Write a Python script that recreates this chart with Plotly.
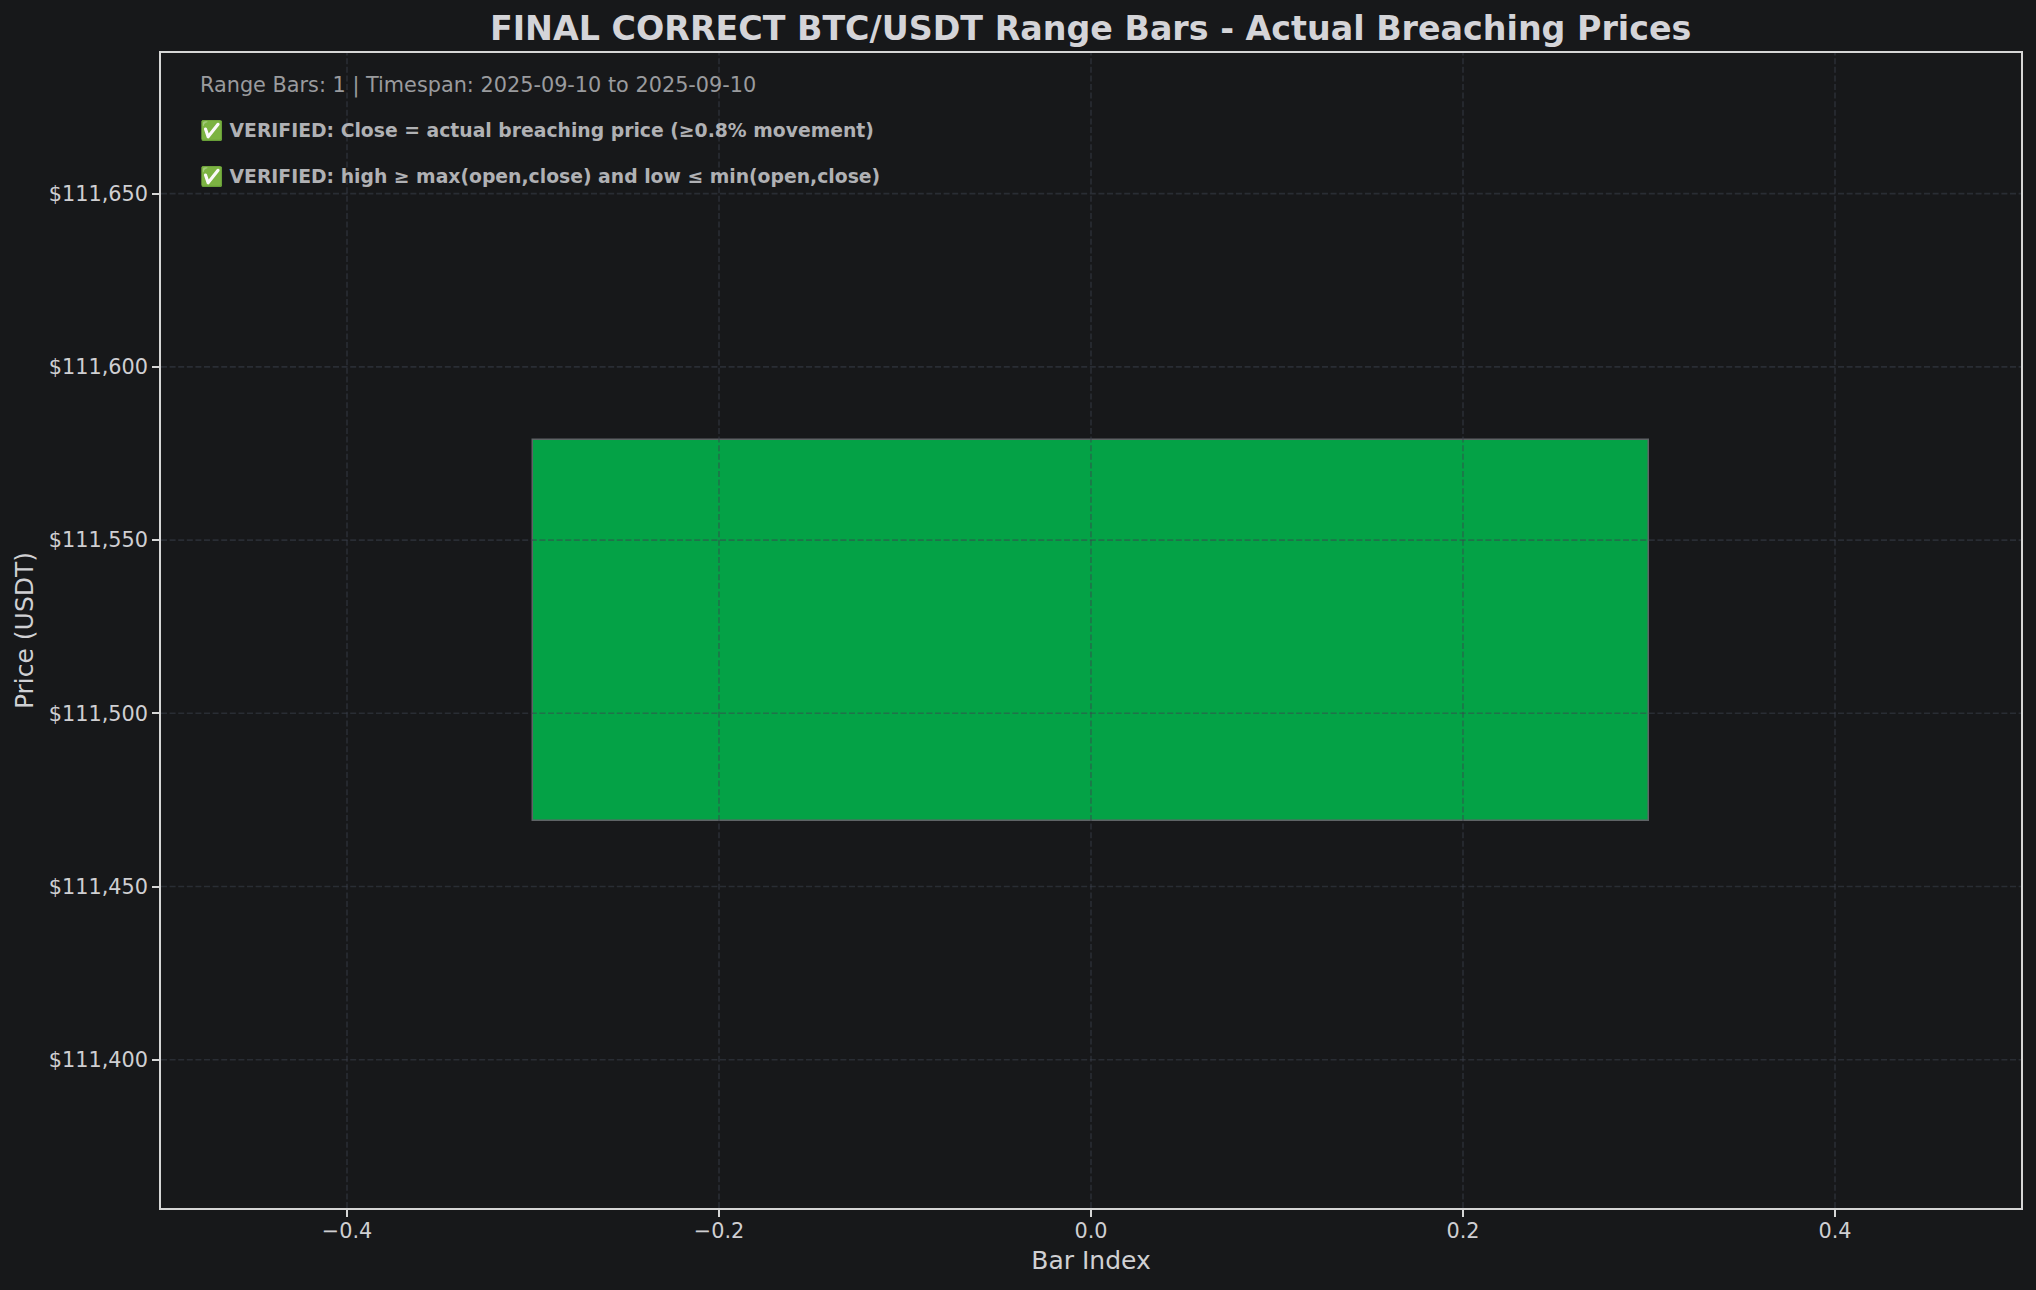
import plotly.graph_objects as go

# ---- data ----
bar_index = [0]
open_prices = [111469.0]
close_prices = [111579.0]

x_tick_vals = [-0.4, -0.2, 0.0, 0.2, 0.4]
x_tick_text = ["\u22120.4", "\u22120.2", "0.0", "0.2", "0.4"]
y_tick_vals = [111400, 111450, 111500, 111550, 111600, 111650]
y_tick_text = ["$" + f"{v:,}" for v in y_tick_vals]

title_text = "FINAL CORRECT BTC/USDT Range Bars - Actual Breaching Prices"
info_line = "Range Bars: 1 | Timespan: 2025-09-10 to 2025-09-10"
verify_lines = [
    "\u2705 VERIFIED: Close = actual breaching price (\u22650.8% movement)",
    "\u2705 VERIFIED: high \u2265 max(open,close) and low \u2264 min(open,close)",
]

BG = "#17181a"
FONT = "DejaVu Sans"

fig = go.Figure()
fig.add_trace(go.Bar(
    x=bar_index,
    y=[c - o for o, c in zip(open_prices, close_prices)],
    base=open_prices,
    width=0.6,
    marker=dict(color="#04a246", line=dict(color="#5f6366", width=1.5)),
    showlegend=False,
))

grid_color = "rgba(60,66,78,0.5)"
shapes = []
for v in y_tick_vals:
    shapes.append(dict(type="line", xref="paper", x0=0, x1=1, yref="y", y0=v, y1=v,
                       line=dict(color=grid_color, width=1.6, dash="6px,2.6px"), layer="above"))
for v in x_tick_vals:
    shapes.append(dict(type="line", yref="paper", y0=0, y1=1, xref="x", x0=v, x1=v,
                       line=dict(color=grid_color, width=1.6, dash="6px,2.6px"), layer="above"))

annotations = [
    dict(text=info_line, xref="paper", yref="paper", x=0.02, y=0.9717, xanchor="left", yanchor="middle",
         showarrow=False, font=dict(family=FONT, size=20.8, color="#9a9b9e")),
]
for txt, yy in zip(verify_lines, [0.9325, 0.893]):
    annotations.append(dict(text="<b>" + txt + "</b>", xref="paper", yref="paper", x=0.02, y=yy,
                            xanchor="left", yanchor="middle", showarrow=False,
                            font=dict(family=FONT, size=18.8, color="#b0b1b4")))

fig.update_layout(
    width=2036, height=1290,
    paper_bgcolor=BG, plot_bgcolor=BG,
    margin=dict(l=161, r=15, t=53, b=82),
    title=dict(text="<b>" + title_text + "</b>", x=0.5357, xanchor="center", y=1 - 28.6 / 1290,
               yanchor="middle", font=dict(family=FONT, size=33.3, color="#d4d4d8")),
    font=dict(family=FONT, color="#cfcfd2"),
    shapes=shapes,
    annotations=annotations,
    bargap=0,
)
fig.update_xaxes(
    range=[-0.5, 0.5], tickvals=x_tick_vals, ticktext=x_tick_text,
    showgrid=False, zeroline=False,
    showline=True, linecolor="#d6d6d6", linewidth=1.7, mirror=True,
    ticks="outside", ticklen=7, tickwidth=1.6, tickcolor="#d6d6d6",
    ticklabelstandoff=-4,
    tickfont=dict(family=FONT, size=20.8, color="#cfcfd2"),
    title=dict(text="Bar Index", font=dict(family=FONT, size=25, color="#d0d0d3"), standoff=10),
)
fig.update_yaxes(
    range=[111357.2, 111690.6], tickvals=y_tick_vals, ticktext=y_tick_text,
    showgrid=False, zeroline=False,
    showline=True, linecolor="#d6d6d6", linewidth=1.7, mirror=True,
    ticks="outside", ticklen=7, tickwidth=1.6, tickcolor="#d6d6d6",
    tickfont=dict(family=FONT, size=20.8, color="#cfcfd2"),
    title=dict(text="Price (USDT)", font=dict(family=FONT, size=25, color="#d0d0d3"), standoff=8),
)

fig.write_html("out.html")
